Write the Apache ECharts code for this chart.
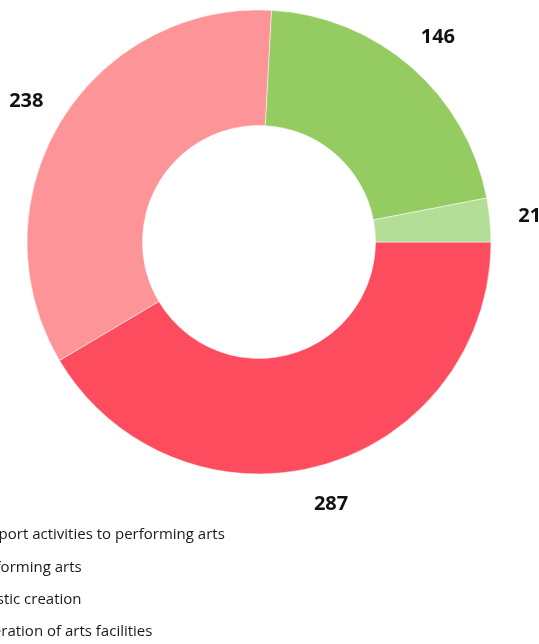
<!DOCTYPE html>
<html>
<head>
<meta charset="utf-8">
<script src="https://cdn.jsdelivr.net/npm/echarts@6/dist/echarts.min.js"></script>
<style>
html,body{margin:0;padding:0;background:#fff;}
#c{width:539px;height:644px;}
</style>
</head>
<body>
<div id="c"></div>
<script>
const categories = ["Support activities to performing arts", "Performing arts", "Artistic creation", "Operation of arts facilities"];
const values = [287, 238, 146, 21];
const colors = ["#FC4C5E", "#FC9498", "#95CC62", "#B2DE98"];

const labelFontSize = 20;
const chart = echarts.init(document.getElementById('c'), null, {renderer: 'canvas'});
chart.setOption({
  animation: false,
  color: colors,
  legend: {
    orient: 'vertical',
    left: -59,
    top: 527,
    padding: 0,
    itemGap: 16.3,
    itemWidth: 25,
    itemHeight: 14,
    icon: 'rect',
    textStyle: {fontFamily: 'Open Sans', fontSize: 15, lineHeight: 16, color: '#1a1a1a'},
    data: categories
  },
  series: [{
    type: 'pie',
    center: [259, 242],
    radius: [116.5, 232],
    startAngle: 0,
    clockwise: true,
    avoidLabelOverlap: false,
    itemStyle: {borderColor: '#fff', borderWidth: 0.5},
    label: {
      show: true,
      position: 'outside',
      formatter: '{c}',
      distanceToLabelLine: 0,
      fontFamily: 'Open Sans',
      fontWeight: 'bold',
      fontSize: labelFontSize,
      color: '#111'
    },
    labelLine: {show: false, length: 40, length2: -17},
    emphasis: {disabled: true},
    data: categories.map((n, i) => ({
      name: n,
      value: values[i],
      // centre the label text on the radial anchor point
      labelLine: {length2: -String(values[i]).length * labelFontSize * 0.285}
    }))
  }]
});
</script>
</body>
</html>
